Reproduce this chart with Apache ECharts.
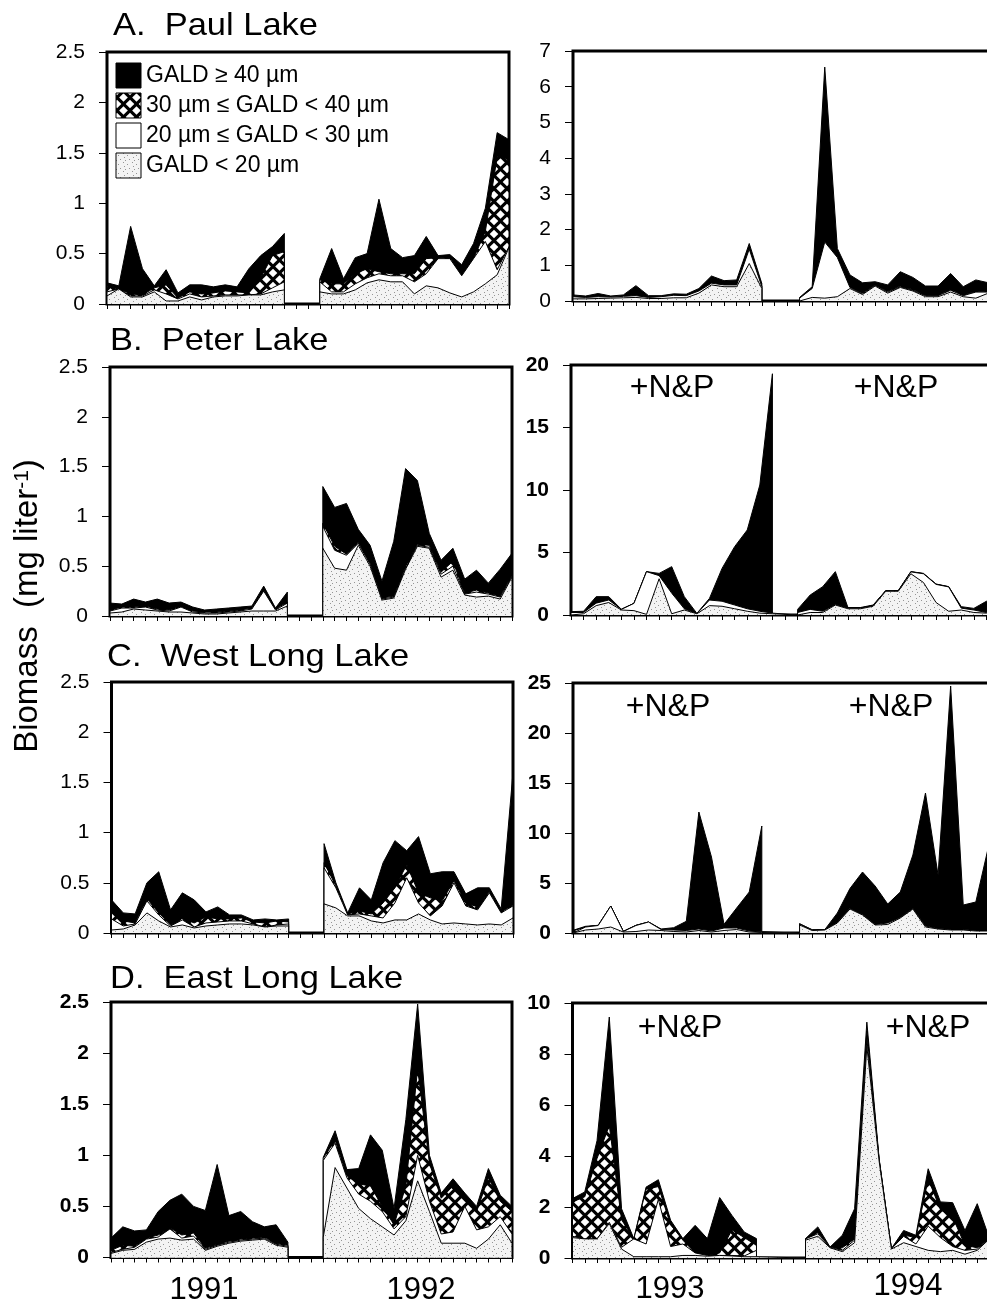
<!DOCTYPE html>
<html><head><meta charset="utf-8">
<script src="https://cdn.jsdelivr.net/npm/echarts@6/dist/echarts.min.js"></script>
<style>html,body{margin:0;padding:0;background:#fff}#c{width:987px;height:1306px}</style>
</head><body><div id="c"></div>
<script>
// ---- Data: cumulative biomass (mg/L) per size class boundary, one value per sampling date ----
// "lt20" = GALD<20, "lt30" = GALD<30, "lt40" = GALD<40, "total" = all sizes
const paul1991_total=[0.21,0.18,0.77,0.35,0.18,0.34,0.11,0.19,0.19,0.17,0.19,0.17,0.35,0.48,0.57,0.70];
const paul1991_lt40=[0.17,0.15,0.10,0.09,0.16,0.19,0.06,0.12,0.10,0.11,0.13,0.12,0.11,0.26,0.48,0.52];
const paul1991_lt30=[0.12,0.15,0.08,0.08,0.14,0.10,0.05,0.10,0.07,0.08,0.09,0.09,0.09,0.10,0.16,0.22];
const paul1991_lt20=[0.08,0.15,0.07,0.07,0.12,0.03,0.03,0.07,0.04,0.07,0.08,0.08,0.09,0.09,0.12,0.14];
const paul1992_total=[0.25,0.55,0.25,0.46,0.50,1.04,0.55,0.46,0.48,0.67,0.48,0.49,0.39,0.60,0.95,1.70,1.63];
const paul1992_lt40=[0.24,0.20,0.20,0.30,0.35,0.32,0.30,0.30,0.30,0.45,0.46,0.46,0.30,0.45,0.72,1.46,1.43];
const paul1992_lt30=[0.22,0.12,0.12,0.20,0.26,0.30,0.28,0.28,0.22,0.30,0.45,0.45,0.28,0.45,0.62,0.34,0.57];
const paul1992_lt20=[0.12,0.10,0.10,0.14,0.21,0.24,0.22,0.22,0.10,0.18,0.16,0.11,0.07,0.12,0.20,0.29,0.56];
const paul1993_total=[0.17,0.14,0.21,0.14,0.17,0.43,0.15,0.15,0.20,0.19,0.35,0.70,0.57,0.59,1.61,0.49];
const paul1993_lt40=[0.12,0.10,0.13,0.11,0.14,0.17,0.10,0.12,0.17,0.15,0.29,0.52,0.46,0.46,1.47,0.42];
const paul1993_lt30=[0.12,0.10,0.12,0.11,0.13,0.15,0.10,0.12,0.16,0.15,0.28,0.50,0.45,0.45,1.45,0.40];
const paul1993_lt20=[0.06,0.06,0.07,0.08,0.09,0.10,0.07,0.07,0.09,0.09,0.22,0.45,0.40,0.40,1.05,0.35];
const paul1994_total=[0.10,0.40,6.55,1.47,0.73,0.51,0.54,0.45,0.82,0.66,0.42,0.42,0.77,0.40,0.59,0.51,0.55];
const paul1994_lt40=[0.08,0.35,1.66,1.24,0.40,0.22,0.45,0.27,0.42,0.32,0.16,0.16,0.32,0.16,0.27,0.27,0.30];
const paul1994_lt30=[0.08,0.35,1.65,1.22,0.38,0.20,0.44,0.25,0.40,0.30,0.15,0.15,0.30,0.15,0.25,0.25,0.28];
const paul1994_lt20=[0.05,0.10,0.08,0.12,0.35,0.18,0.42,0.22,0.38,0.28,0.12,0.12,0.25,0.12,0.08,0.22,0.25];

const peter1991_total=[0.13,0.12,0.17,0.14,0.17,0.13,0.14,0.09,0.06,0.07,0.08,0.09,0.10,0.30,0.08,0.24];
const peter1991_lt40=[0.06,0.09,0.09,0.10,0.07,0.06,0.10,0.05,0.04,0.04,0.05,0.06,0.08,0.25,0.07,0.14];
const peter1991_lt30=[0.05,0.08,0.08,0.09,0.06,0.05,0.09,0.04,0.03,0.03,0.04,0.05,0.07,0.25,0.06,0.13];
const peter1991_lt20=[0.03,0.04,0.07,0.06,0.05,0.04,0.04,0.03,0.02,0.02,0.03,0.04,0.05,0.05,0.05,0.10];
const peter1992_total=[1.30,1.09,1.13,0.87,0.71,0.35,0.75,1.48,1.36,0.83,0.56,0.68,0.37,0.46,0.33,0.47,0.63];
const peter1992_lt40=[0.93,0.70,0.62,0.74,0.53,0.18,0.20,0.50,0.72,0.71,0.44,0.55,0.23,0.26,0.23,0.20,0.41];
const peter1992_lt30=[0.90,0.66,0.61,0.73,0.52,0.17,0.19,0.48,0.71,0.69,0.42,0.50,0.22,0.24,0.22,0.19,0.40];
const peter1992_lt20=[0.68,0.48,0.46,0.71,0.50,0.16,0.18,0.47,0.70,0.68,0.39,0.46,0.21,0.19,0.20,0.17,0.39];
const peter1993_total=[0.27,0.30,1.47,1.47,0.46,0.93,3.47,3.33,3.87,1.47,0.13,1.33,3.73,5.47,6.80,10.4,19.3];
const peter1993_lt40=[0.21,0.21,0.97,1.22,0.45,0.93,3.47,3.20,1.80,0.55,0.12,1.22,1.12,0.82,0.52,0.32,0.17];
const peter1993_lt30=[0.20,0.20,0.95,1.20,0.45,0.93,3.47,3.15,1.75,0.50,0.11,1.20,1.10,0.80,0.50,0.30,0.15];
const peter1993_lt20=[0.10,0.10,0.75,1.00,0.40,0.35,0.05,2.90,0.10,0.40,0.10,0.75,0.70,0.50,0.30,0.15,0.10];
const peter1994_total=[0.45,1.60,2.27,3.47,0.60,0.60,0.80,1.95,1.95,3.47,3.33,2.48,2.27,0.67,0.53,1.10,1.30];
const peter1994_lt40=[0.20,0.47,0.32,0.87,0.56,0.56,0.76,1.94,1.94,3.46,3.31,2.46,2.26,0.56,0.42,0.22,0.20];
const peter1994_lt30=[0.20,0.45,0.30,0.85,0.55,0.55,0.75,1.93,1.93,3.45,3.30,2.45,2.25,0.55,0.40,0.20,0.20];
const peter1994_lt20=[0.10,0.20,0.20,0.80,0.50,0.50,0.70,1.90,1.90,3.30,2.60,1.00,0.30,0.40,0.20,0.15,0.15];

const west1991_total=[0.33,0.20,0.19,0.50,0.61,0.23,0.40,0.33,0.21,0.26,0.18,0.18,0.13,0.14,0.13,0.14];
const west1991_lt40=[0.22,0.12,0.10,0.34,0.20,0.08,0.15,0.10,0.16,0.14,0.14,0.15,0.11,0.10,0.12,0.11];
const west1991_lt30=[0.14,0.07,0.09,0.32,0.18,0.07,0.13,0.06,0.10,0.11,0.12,0.12,0.09,0.06,0.08,0.09];
const west1991_lt20=[0.03,0.04,0.08,0.20,0.12,0.06,0.08,0.05,0.07,0.08,0.09,0.09,0.08,0.06,0.07,0.07];
const west1992_total=[0.89,0.50,0.20,0.45,0.33,0.70,0.92,0.82,0.96,0.59,0.61,0.61,0.39,0.45,0.45,0.24,1.60];
const west1992_lt40=[0.70,0.47,0.19,0.22,0.19,0.30,0.45,0.68,0.40,0.35,0.32,0.52,0.30,0.26,0.41,0.21,0.28];
const west1992_lt30=[0.65,0.45,0.18,0.19,0.17,0.15,0.30,0.55,0.30,0.17,0.27,0.50,0.27,0.23,0.40,0.20,0.27];
const west1992_lt20=[0.29,0.25,0.17,0.17,0.12,0.10,0.13,0.13,0.19,0.13,0.09,0.10,0.09,0.08,0.09,0.08,0.15];
const west1993_total=[0.27,0.67,0.77,2.70,0.17,0.77,1.10,0.40,0.53,1.17,12.1,7.60,0.87,2.50,4.10,10.7];
const west1993_lt40=[0.21,0.61,0.76,2.70,0.16,0.76,1.10,0.36,0.31,0.26,0.42,0.22,0.52,0.52,0.22,0.12];
const west1993_lt30=[0.20,0.60,0.75,2.70,0.15,0.75,1.10,0.35,0.30,0.25,0.40,0.20,0.50,0.50,0.20,0.10];
const west1993_lt20=[0.10,0.30,0.40,0.60,0.10,0.15,0.30,0.25,0.15,0.10,0.25,0.10,0.25,0.35,0.10,0.05];
const west1994_total=[0.93,0.33,0.33,2.00,4.45,6.10,4.70,2.90,4.10,7.80,14.0,5.80,24.7,2.80,3.10,8.60,8.00];
const west1994_lt40=[0.91,0.29,0.33,1.06,2.46,1.86,0.86,1.01,1.56,2.46,0.71,0.46,0.36,0.36,0.26,0.26,0.26];
const west1994_lt30=[0.90,0.28,0.32,1.05,2.45,1.85,0.85,1.00,1.55,2.45,0.70,0.45,0.35,0.35,0.25,0.25,0.25];
const west1994_lt20=[0.80,0.25,0.30,1.00,2.40,1.80,0.80,0.85,1.50,2.40,0.60,0.40,0.30,0.30,0.20,0.20,0.20];

const east1991_total=[0.19,0.30,0.26,0.27,0.45,0.56,0.62,0.50,0.46,0.91,0.41,0.45,0.35,0.30,0.32,0.15];
const east1991_lt40=[0.07,0.12,0.11,0.19,0.22,0.29,0.22,0.24,0.09,0.13,0.16,0.18,0.19,0.20,0.14,0.12];
const east1991_lt30=[0.05,0.08,0.10,0.18,0.20,0.28,0.19,0.21,0.08,0.12,0.15,0.17,0.18,0.19,0.13,0.11];
const east1991_lt20=[0.04,0.07,0.08,0.15,0.18,0.19,0.17,0.18,0.07,0.11,0.14,0.16,0.17,0.18,0.12,0.10];
const east1992_total=[0.98,1.24,0.86,0.87,1.20,1.05,0.48,1.35,2.48,1.00,0.63,0.77,0.63,0.50,0.87,0.61,0.50];
const east1992_lt40=[0.97,1.15,0.80,0.72,0.70,0.50,0.32,0.70,1.85,0.92,0.58,0.70,0.58,0.45,0.78,0.55,0.45];
const east1992_lt30=[0.95,1.12,0.78,0.62,0.55,0.45,0.28,0.40,1.00,0.55,0.23,0.25,0.50,0.27,0.30,0.40,0.23];
const east1992_lt20=[0.20,0.88,0.68,0.48,0.38,0.30,0.22,0.36,0.75,0.45,0.14,0.14,0.14,0.09,0.18,0.32,0.14];
const east1993_total=[2.33,2.59,4.60,9.45,1.93,0.76,2.78,3.07,1.48,0.76,1.28,0.76,2.37,1.67,1.02,0.76];
const east1993_lt40=[2.20,2.40,3.90,5.20,1.50,0.75,2.70,2.80,1.30,0.70,0.20,0.10,0.20,1.10,0.80,0.50];
const east1993_lt30=[0.85,0.75,0.75,1.40,0.42,0.75,0.55,2.30,0.45,0.55,0.20,0.10,0.10,0.10,0.08,0.30];
const east1993_lt20=[0.80,0.75,0.75,1.35,0.35,0.05,0.05,0.05,0.05,0.10,0.10,0.07,0.10,0.08,0.05,0.05];
const east1994_total=[0.76,1.22,0.43,0.89,1.93,9.25,3.90,0.37,1.08,0.89,3.50,2.20,2.17,1.08,2.13,0.76];
const east1994_lt40=[0.76,1.00,0.42,0.40,0.75,8.90,3.85,0.37,0.90,0.80,3.10,1.90,1.60,0.50,0.40,0.76];
const east1994_lt30=[0.75,0.95,0.42,0.30,0.70,8.60,3.85,0.36,0.85,0.55,1.25,0.80,0.45,0.30,0.35,0.75];
const east1994_lt20=[0.70,0.85,0.40,0.25,0.60,8.30,3.80,0.35,0.60,0.45,0.30,0.25,0.30,0.15,0.30,0.75];

// first sampling-date tick index of each season
const starts9192=[0,18];
const startsPaul9394=[0,18], startsPeter9394=[0,18], startsWest9394=[0,18], startsEast9394=[0,19];
const yearLabels=['1991','1992','1993','1994'];
const lakeTitles=['A.  Paul Lake','B.  Peter Lake','C.  West Long Lake','D.  East Long Lake'];
const legendLabels=['GALD \u2265 40 \u00b5m','30 \u00b5m \u2264 GALD < 40 \u00b5m','20 \u00b5m \u2264 GALD < 30 \u00b5m','GALD < 20 \u00b5m'];
const treatLabel='+N&P';

// ---- patterns ----
function hatchCanvas(){
  const s=13,h=4.3,c=document.createElement('canvas');c.width=s;c.height=s;
  const g=c.getContext('2d');g.fillStyle='#000';g.fillRect(0,0,s,s);g.fillStyle='#fff';
  const dia=(cx,cy)=>{g.beginPath();g.moveTo(cx,cy-h);g.lineTo(cx+h,cy);g.lineTo(cx,cy+h);g.lineTo(cx-h,cy);g.closePath();g.fill();};
  dia(s/2,s/2);dia(0,0);dia(s,0);dia(0,s);dia(s,s);
  return c;
}
function stippleCanvas(){
  const s=9,c=document.createElement('canvas');c.width=s;c.height=s;
  const g=c.getContext('2d');g.fillStyle='#f3f3f3';g.fillRect(0,0,s,s);g.fillStyle='#959595';
  [[1,2],[6,0],[3,6],[8,7],[7,4]].forEach(p=>g.fillRect(p[0],p[1],1,1));
  return c;
}
const HATCH={image:hatchCanvas(),repeat:'repeat'};
const STIP={image:stippleCanvas(),repeat:'repeat'};
const FILLS=['#000',HATCH,'#fff',STIP];

function buildPoints(starts, arrs){
  const pts=[];
  arrs.forEach((arr,k)=>{const s=starts[k];pts.push([s,0]);arr.forEach((v,i)=>pts.push([s+i,v]));pts.push([s+arr.length-1,0]);});
  return pts;
}

const FONT='Liberation Sans, Arial, sans-serif';
const panels=[
 {g:{left:107,top:52,width:402,height:252},ymax:2.5,yint:0.5,bold:false,starts:starts9192,
  L:[[paul1991_total,paul1992_total],[paul1991_lt40,paul1992_lt40],[paul1991_lt30,paul1992_lt30],[paul1991_lt20,paul1992_lt20]]},
 {g:{left:573,top:51,width:428,height:250},ymax:7,yint:1,bold:false,starts:startsPaul9394,
  L:[[paul1993_total,paul1994_total],[paul1993_lt40,paul1994_lt40],[paul1993_lt30,paul1994_lt30],[paul1993_lt20,paul1994_lt20]]},
 {g:{left:110,top:367,width:402,height:249},ymax:2.5,yint:0.5,bold:false,starts:starts9192,
  L:[[peter1991_total,peter1992_total],[peter1991_lt40,peter1992_lt40],[peter1991_lt30,peter1992_lt30],[peter1991_lt20,peter1992_lt20]]},
 {g:{left:571,top:365,width:428,height:250},ymax:20,yint:5,bold:true,starts:startsPeter9394,
  L:[[peter1993_total,peter1994_total],[peter1993_lt40,peter1994_lt40],[peter1993_lt30,peter1994_lt30],[peter1993_lt20,peter1994_lt20]]},
 {g:{left:111.5,top:682,width:401.5,height:251},ymax:2.5,yint:0.5,bold:false,starts:starts9192,
  L:[[west1991_total,west1992_total],[west1991_lt40,west1992_lt40],[west1991_lt30,west1992_lt30],[west1991_lt20,west1992_lt20]]},
 {g:{left:573,top:683,width:428,height:250},ymax:25,yint:5,bold:true,starts:startsWest9394,
  L:[[west1993_total,west1994_total],[west1993_lt40,west1994_lt40],[west1993_lt30,west1994_lt30],[west1993_lt20,west1994_lt20]]},
 {g:{left:111,top:1002,width:401,height:255.5},ymax:2.5,yint:0.5,bold:true,starts:starts9192,
  L:[[east1991_total,east1992_total],[east1991_lt40,east1992_lt40],[east1991_lt30,east1992_lt30],[east1991_lt20,east1992_lt20]]},
 {g:{left:572.5,top:1003,width:417,height:255},ymax:10,yint:2,bold:true,starts:startsEast9394,
  L:[[east1993_total,east1994_total],[east1993_lt40,east1994_lt40],[east1993_lt30,east1994_lt30],[east1993_lt20,east1994_lt20]]}
];

const grid=[],xAxis=[],yAxis=[],series=[];
panels.forEach((p,i)=>{
  grid.push(Object.assign({show:true,borderColor:'#000',borderWidth:3,backgroundColor:'transparent',containLabel:false,outerBoundsMode:'none'},p.g));
  xAxis.push({gridIndex:i,type:'value',min:0,max:34,interval:1,
    axisLine:{show:true,onZero:false,lineStyle:{color:'#000',width:2}},
    axisTick:{show:true,length:5,lineStyle:{color:'#000',width:1}},
    axisLabel:{show:false},splitLine:{show:false}});
  yAxis.push({gridIndex:i,type:'value',min:0,max:p.ymax,interval:p.yint,
    axisLine:{show:true,onZero:false,lineStyle:{color:'#000',width:2}},
    axisTick:{show:true,length:8,lineStyle:{color:'#000',width:1}},
    axisLabel:{color:'#000',fontSize:21,fontFamily:FONT,fontWeight:p.bold?'bold':'normal',margin:22},
    splitLine:{show:false}});
  p.L.forEach((arrs,k)=>{
    series.push({type:'line',xAxisIndex:i,yAxisIndex:i,data:buildPoints(p.starts,arrs),
      symbol:'none',showSymbol:false,silent:true,animation:false,
      lineStyle:{color:'#000',width:1},
      areaStyle:{color:FILLS[k],opacity:1,origin:'start'},z:2+k});
  });
});

const graphic=[];
const titleY=[27,342,658,980], titleX=[113,110,107,110];
lakeTitles.forEach((t,i)=>graphic.push({type:'text',x:titleX[i],y:titleY[i],scaleX:1.13,silent:true,
  style:{text:t,fill:'#000',fontSize:30.5,fontFamily:FONT,textAlign:'left',textVerticalAlign:'middle'}}));
[[672,388],[896,388],[668,707],[891,707],[680,1028],[928,1028]].forEach(c=>graphic.push({type:'text',x:c[0],y:c[1],silent:true,
  style:{text:treatLabel,fill:'#000',fontSize:32,fontFamily:FONT,textAlign:'center',textVerticalAlign:'middle'}}));
[[204,1290],[421,1290],[670,1289],[908,1286]].forEach((c,i)=>graphic.push({type:'text',x:c[0],y:c[1],silent:true,
  style:{text:yearLabels[i],fill:'#000',fontSize:31,fontFamily:FONT,textAlign:'center',textVerticalAlign:'middle'}}));
graphic.push({type:'text',x:28,y:606,rotation:Math.PI/2,silent:true,
  style:{text:'{a|Biomass  (mg liter}{s|-1}{a|)}',textAlign:'center',textVerticalAlign:'middle',
    rich:{a:{fontSize:33,fontFamily:FONT,fill:'#000'},s:{fontSize:21,fontFamily:FONT,fill:'#000',verticalAlign:'top'}}}});
const legY=[63,93,123,153];
legendLabels.forEach((t,i)=>{
  graphic.push({type:'rect',shape:{x:116,y:legY[i],width:25,height:25},silent:true,z:100,
    style:{fill:FILLS[i],stroke:'#000',lineWidth:1}});
  graphic.push({type:'text',x:146,y:legY[i]+13,silent:true,z:100,
    style:{text:t,fill:'#000',fontSize:23,fontFamily:FONT,textAlign:'left',textVerticalAlign:'middle'}});
});

const chart=echarts.init(document.getElementById('c'),null,{renderer:'canvas'});
chart.setOption({animation:false,backgroundColor:'#fff',grid,xAxis,yAxis,series,graphic});
</script></body></html>
